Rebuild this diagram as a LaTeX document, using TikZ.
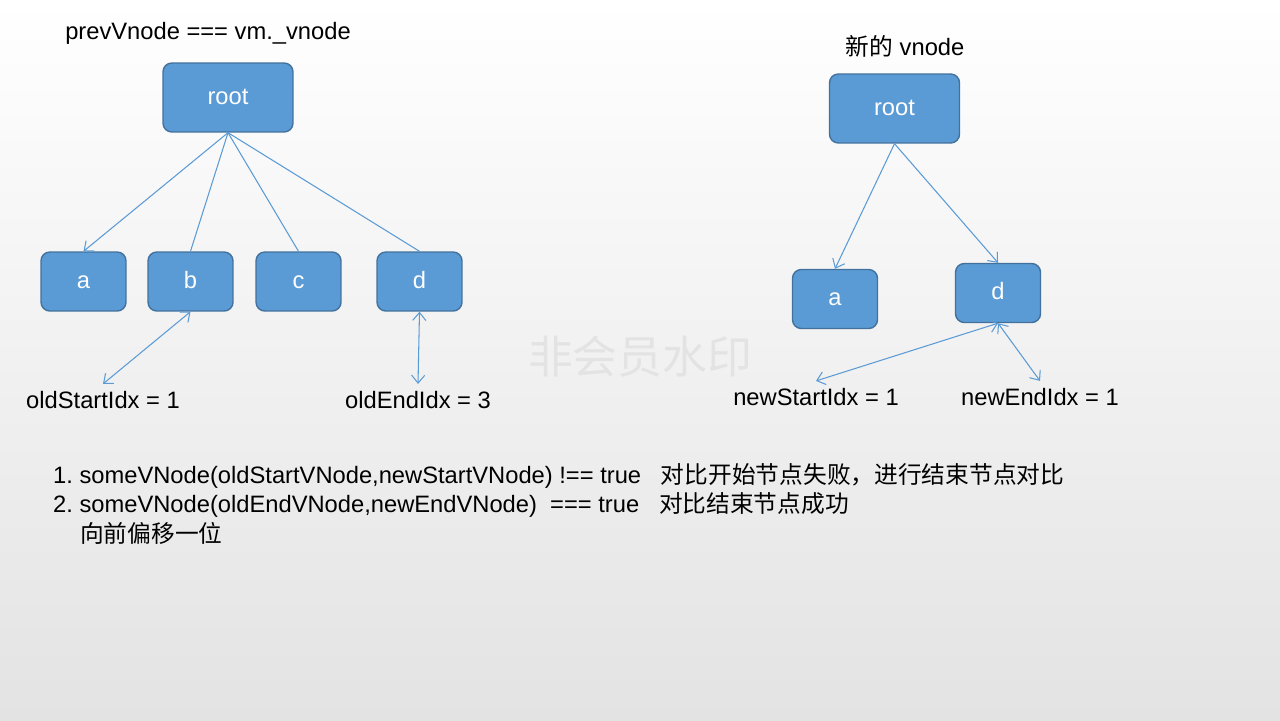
\documentclass[tikz,border=0pt]{standalone}
\usepackage{fontspec}
\setmainfont{Liberation Sans}
\newfontfamily\cjk{Noto Sans CJK SC}
\usetikzlibrary{arrows.meta,positioning}
\definecolor{boxblue}{HTML}{5B9BD5}
\definecolor{boxline}{HTML}{41719C}

\begin{document}
\begin{tikzpicture}[
    x=0.02cm, y=-0.02cm,
    >={Straight Barb[length=4.5pt,width=7.5pt]},
    font=\fontsize{13.5}{16}\selectfont,
    vnode/.style={
		rectangle,
		rounded corners=5pt,
		draw=boxline,
		line width=0.8pt,
		fill=boxblue,
		text=white,
		text height=1.6ex,
		text depth=0.1ex,
		minimum width=1.7cm,
		minimum height=1.18cm
	},
	rootnode/.style={
		vnode,
		minimum width=2.6cm,
		minimum height=1.38cm
	},
	idx/.style={
		inner sep=4pt
	},
	link/.style={
		draw=boxblue,
		line width=0.6pt
	}
  ]
  % background of the slide
  \useasboundingbox (0,0) rectangle (1280,720);
  \shade [top color=white, bottom color=gray!22] (0,0) rectangle (1280,720);
  \node [text=gray!22, font=\cjk\fontsize{25.5}{28}\selectfont] (mark) at (640,357) {非会员水印};

  % old tree
  \node (oldtitle) at (208,33) {prevVnode === vm.\_vnode};
  \node [rootnode] (oldroot) at (228,97.5) {root};
  \node [vnode] (olda) at (83.5,281.5) {a};
  \node [vnode] (oldb) at (190.5,281.5) {b};
  \node [vnode] (oldc) at (298.5,281.5) {c};
  \node [vnode] (oldd) at (419.5,281.5) {d};
  \node [idx] (oldstart) at (103,400) {oldStartIdx = 1};
  \node [idx] (oldend) at (418,400) {oldEndIdx = 3};

  % new tree
  \node (newtitle) at (905,46) {{\cjk 新的} vnode};
  \node [rootnode] (newroot) at (894.5,108.5) {root};
  \node [vnode] (newa) at (835,299) {a};
  \node [vnode] (newd) at (998,293) {d};
  \node [idx] (newstart) at (816,397) {newStartIdx = 1};
  \node [idx] (newend) at (1040,397) {newEndIdx = 1};

  % notes
  \node [anchor=west] (note1) at (47,476) {1.~someVNode(oldStartVNode,newStartVNode) !== true~~~{\cjk 对比开始节点失败，进行结束节点对比}};
  \node [anchor=west] (note2) at (47,505) {2.~someVNode(oldEndVNode,newEndVNode)~~=== true~~~{\cjk 对比结束节点成功}};
  \node [anchor=west, font=\cjk\fontsize{13.5}{16}\selectfont] (note3) at (74,533) {向前偏移一位};

  \draw [link,->] (oldroot.south) -- (olda.north);
  \draw [link] (oldroot.south) -- (oldb.north);
  \draw [link] (oldroot.south) -- (oldc.north);
  \draw [link] (oldroot.south) -- (oldd.north);
  \draw [link,<->] (oldb.south) -- (oldstart.north);
  \draw [link,<->] (oldd.south) -- (oldend.north);

  \draw [link,->] (newroot.south) -- (newa.north);
  \draw [link,->] (newroot.south) -- (newd.north);
  \draw [link,<->] (newd.south) -- (newstart.north);
  \draw [link,<->] (newd.south) -- (newend.north);
\end{tikzpicture}
\end{document}
